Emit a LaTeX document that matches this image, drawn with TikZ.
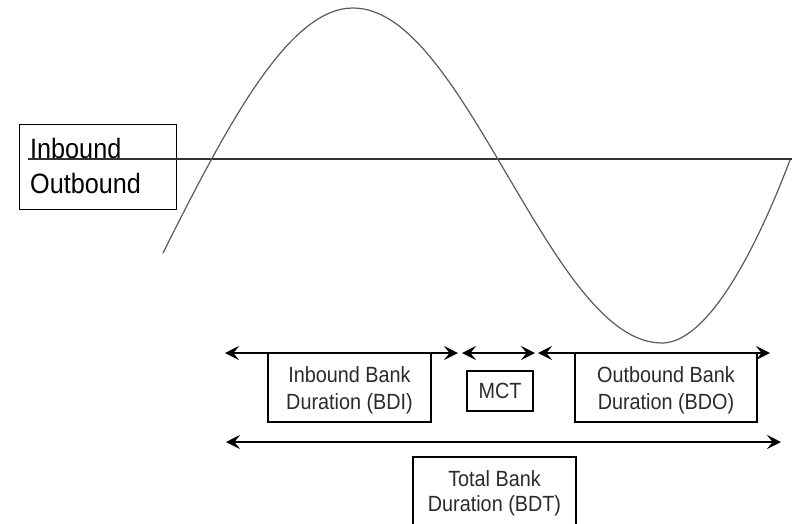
\documentclass[tikz,border=0pt]{standalone}
\usepackage{fontspec}
\setmainfont{Liberation Sans}[FakeStretch=0.9]
\usetikzlibrary{arrows.meta}
\definecolor{curvegray}{HTML}{5A5A5A}
\definecolor{linedark}{HTML}{333333}
\definecolor{txt}{HTML}{2A2A2A}
\tikzset{
  framebox/.style={draw=black, line width=1.1pt, fill=none, align=center, inner sep=0pt,
                   text=txt, font=\fontsize{22}{27}\selectfont},
  legendtxt/.style={anchor=base west, inner sep=0pt, text=black, font=\fontsize{28}{30}\selectfont},
  span/.style={line width=2.8pt, black, {Stealth[length=14pt,width=14pt,inset=5.5pt]}-{Stealth[length=14pt,width=14pt,inset=5.5pt]}},
  wave/.style={curvegray, line width=1.2pt},
  axis/.style={linedark, line width=1.6pt}
}
\begin{document}
\begin{tikzpicture}[x=1pt,y=-1pt]
\useasboundingbox (0,0) rectangle (792,523);
% legend box
\node[draw=black, line width=1.1pt, minimum width=157pt, minimum height=85pt, anchor=north west, inner sep=0pt] (legend) at (19,124) {};
\node[legendtxt] (inb) at (30,158) {Inbound};
\node[legendtxt] (outb) at (30,193) {Outbound};
% axis line
\coordinate (axL) at (28,159);
\coordinate (axR) at (792,159);
\draw[axis] (axL) -- (axR);
% wave
\coordinate (w0) at (163,253);
\coordinate (wpeak) at (353,8);
\coordinate (wmid) at (507.5,175.5);
\coordinate (wtrough) at (662,343);
\coordinate (wend) at (790,160);
\draw[wave] (w0) .. controls (230,119) and (290,8) .. (wpeak)
  .. controls (409,8) and (457,89.7) .. (wmid)
  .. controls (558,261.3) and (606,343) .. (wtrough)
  .. controls (705,343) and (752,260) .. (wend);
% boxes
\node[framebox, minimum width=163pt, minimum height=69pt] (bdi) at (349.5,387.5) {\rule{0pt}{22pt}Inbound Bank\\Duration (BDI)};
\node[framebox, minimum width=66pt, minimum height=40pt] (mct) at (500,391) {MCT};
\node[framebox, minimum width=182pt, minimum height=69pt] (bdo) at (666,387.5) {\rule{0pt}{22pt}Outbound Bank\\Duration (BDO)};
\node[framebox, font=\fontsize{22}{25}\selectfont, minimum width=163pt, minimum height=72pt] (bdt) at (494.5,493) {Total Bank\\Duration (BDT)};
% spans
\coordinate (a1L) at (225,353);
\coordinate (a1R) at (458,353);
\coordinate (a2L) at (462,353);
\coordinate (a2R) at (535,353);
\coordinate (a3L) at (538,353);
\coordinate (a3R) at (770,353);
\coordinate (bL) at (226,442);
\coordinate (bR) at (781,442);
\draw[span] (a1L) -- (a1R);
\draw[span] (a2L) -- (a2R);
\draw[span] (a3L) -- (a3R);
\draw[span] (bL) -- (bR);
\end{tikzpicture}
\end{document}
